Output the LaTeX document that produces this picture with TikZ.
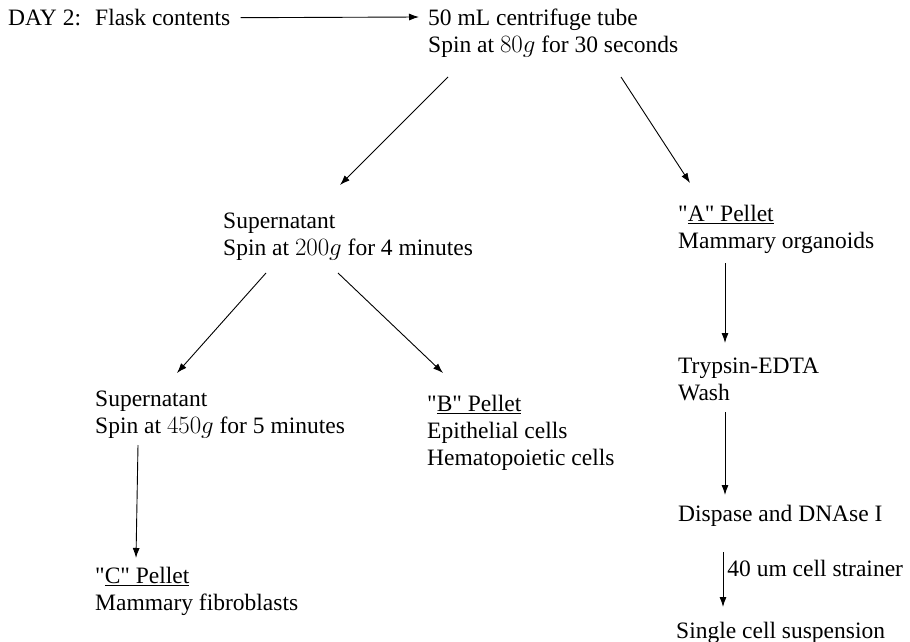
\documentclass[tikz,border=0pt]{standalone}
\usepackage{fontspec}
\setmainfont{Liberation Serif}
\newfontfamily\plainq{Liberation Serif}
\newcommand{\sq}{{\plainq"}}
\usetikzlibrary{arrows.meta}
\begin{document}
\begin{tikzpicture}[x=1pt,y=-1pt,
  txt/.style={anchor=north west, inner sep=0pt, align=left, font=\fontsize{23.5}{27}\selectfont},
  lbl/.style={inner sep=0pt, font=\fontsize{23.5}{27}\selectfont},
  arr/.style={-{Latex[length=10pt,width=7pt]}, line width=0.9pt}]
\useasboundingbox (0,0) rectangle (910,642);
\node[txt] (day) at (8,6) {\strut DAY 2:};
\node[txt] (flask) at (95,6) {\strut Flask contents};
\node[txt] (tube) at (428,6) {\strut 50 mL centrifuge tube\\Spin at $80g$ for 30 seconds};
\node[txt] (sup1) at (223,209) {\strut Supernatant\\Spin at $200g$ for 4 minutes};
\node[txt] (apel) at (678,202) {\strut \sq\underline{A\sq{} Pellet}\\Mammary organoids};
\node[txt] (sup2) at (95,387) {\strut Supernatant\\Spin at $450g$ for 5 minutes};
\node[txt] (bpel) at (427,392) {\strut \sq\underline{B\sq{} Pellet}\\Epithelial cells\\Hematopoietic cells};
\node[txt] (cpel) at (95,564) {\strut \sq\underline{C\sq{} Pellet}\\Mammary fibroblasts};
\node[txt] (tryp) at (678,354) {\strut Trypsin-EDTA\\Wash};
\node[txt] (disp) at (678,502) {\strut Dispase and DNAse I};
\node[txt] (single) at (676,619) {\strut Single cell suspension};

\draw[arr] ([shift={(10,-2)}]flask.east) -- ([shift={(-9,11)}]tube.north west);
\draw[arr] ([shift={(20,71)}]tube.north west) -- ([shift={(117,-24)}]sup1.north west);
\draw[arr] ([shift={(193,71)}]tube.north west) -- ([shift={(12,-19)}]apel.north west);
\draw[arr] ([shift={(43,64)}]sup1.north west) -- ([shift={(82,-14)}]sup2.north west);
\draw[arr] ([shift={(115,64)}]sup1.north west) -- ([shift={(16,-19)}]bpel.north west);
\draw[arr] ([shift={(43,58)}]sup2.north west) -- ([shift={(41,-6)}]cpel.north west);
\draw[arr] ([shift={(47,61)}]apel.north west) -- ([shift={(47,-11)}]tryp.north west);
\draw[arr] ([shift={(47,58)}]tryp.north west) -- ([shift={(47,-7)}]disp.north west);
\draw[arr] ([shift={(45,50)}]disp.north west) -- node[lbl, pos=0.3, right=4pt] {40 um cell strainer} ([shift={(47,-12)}]single.north west);
\end{tikzpicture}
\end{document}
